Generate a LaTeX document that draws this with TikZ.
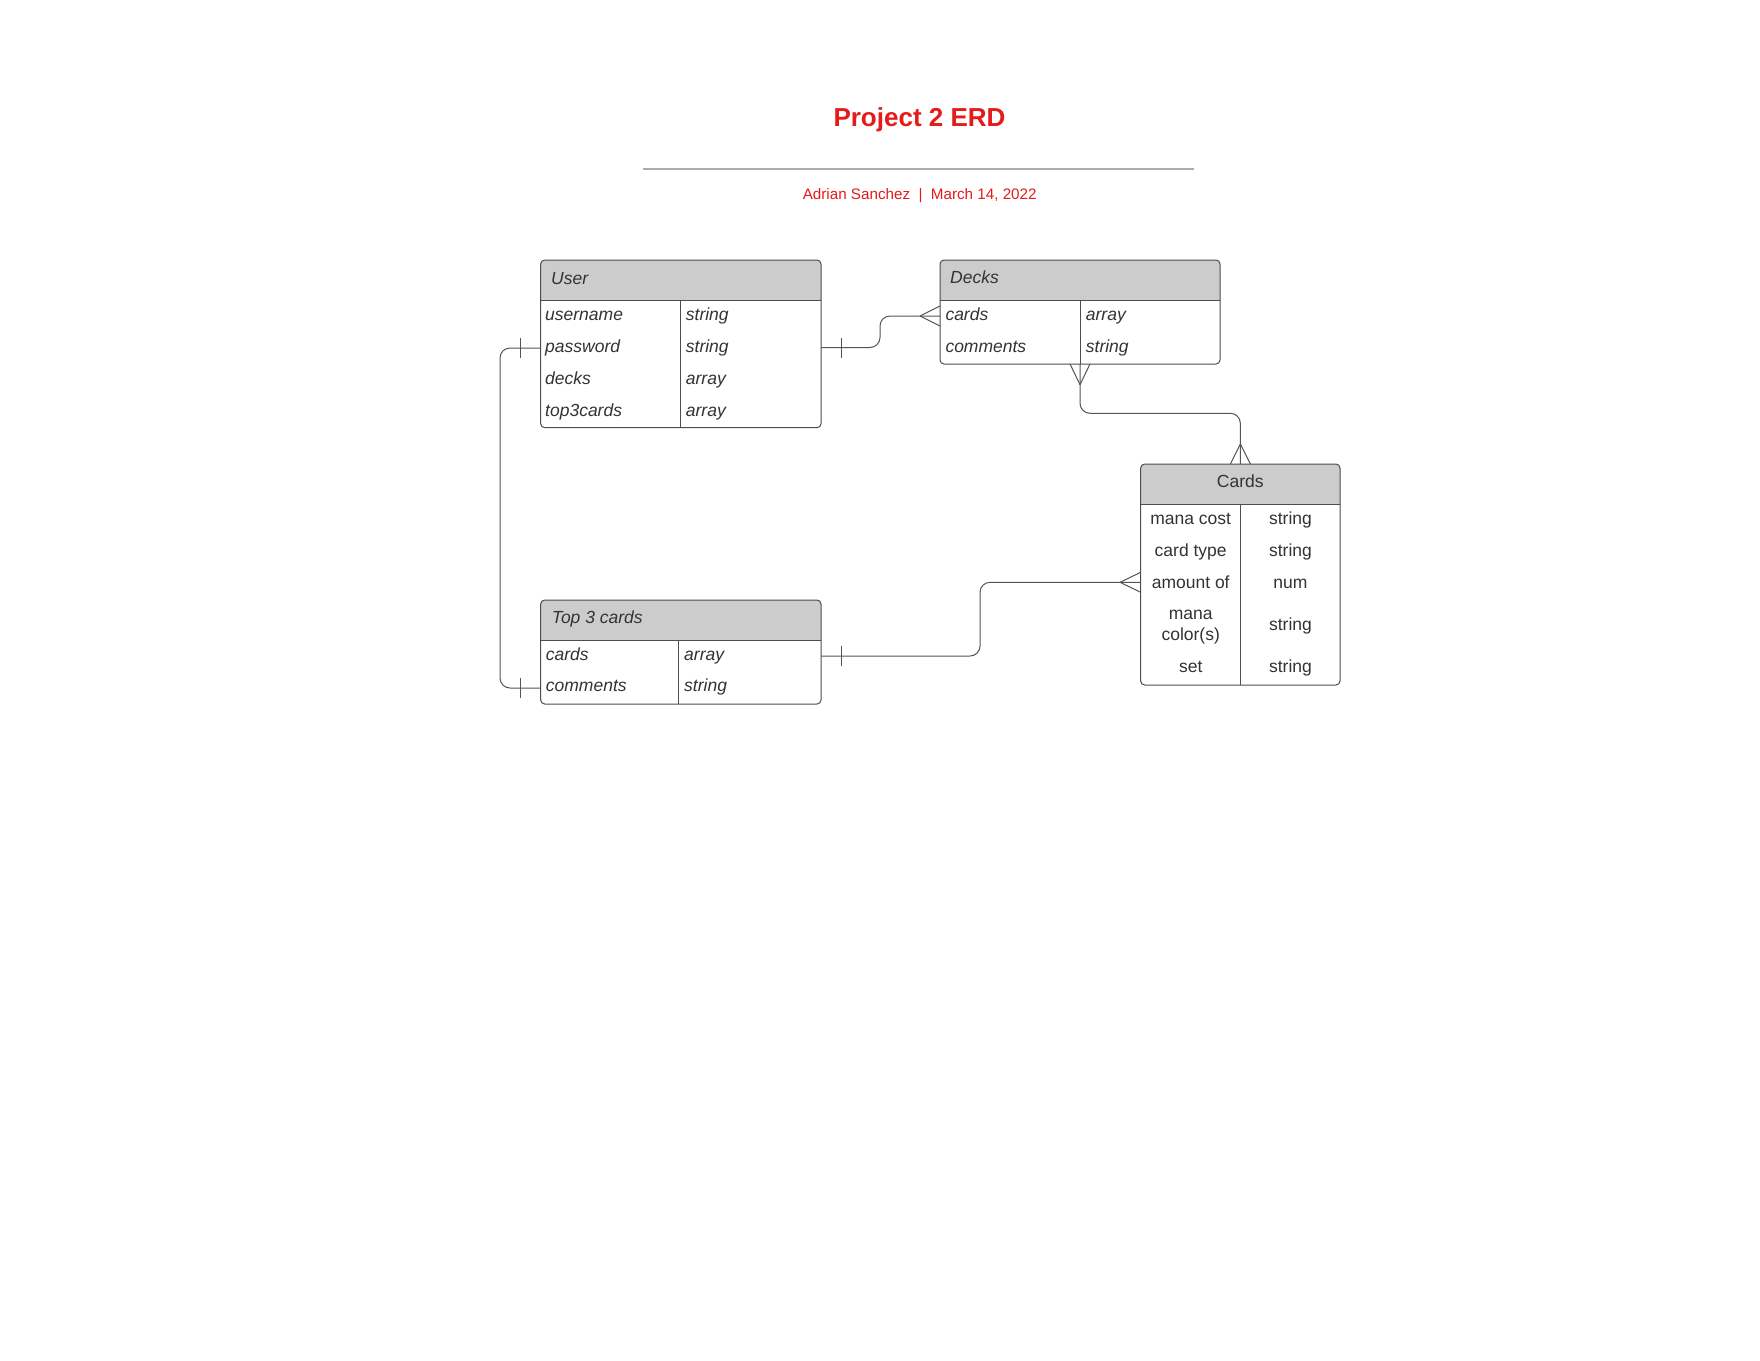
\documentclass[tikz,border=0pt]{standalone}
\usepackage{fontspec}
\setmainfont{Liberation Sans}
\usetikzlibrary{calc}
\definecolor{ttl}{HTML}{E51A1A}
\definecolor{hdr}{HTML}{CCCCCC}
\definecolor{bd}{HTML}{4D4D4D}
\definecolor{cn}{HTML}{555555}
\definecolor{txt}{HTML}{333333}
\definecolor{rulec}{HTML}{A8ACB4}
\begin{document}
\begin{tikzpicture}[x=1pt,y=-1pt,
  tbl/.style={draw=none,rectangle,inner sep=0pt,outer sep=0pt,anchor=north west},
  bdr/.style={draw=bd,line width=1pt},
  conn/.style={draw=cn,line width=1pt},
  fld/.style={font=\fontsize{17.5}{21}\selectfont\itshape,text=txt,inner sep=0pt,anchor=base west},
  cfld/.style={font=\fontsize{17.5}{21}\selectfont,text=txt,inner sep=0pt,anchor=base},
]
\useasboundingbox[fill=white] (0,0) rectangle (1760,1360);

% title
\node[font=\fontsize{26}{30}\selectfont\bfseries,text=ttl,anchor=base,inner sep=0pt] (title) at (919.5,126) {Project 2 ERD};
\coordinate (ruleL) at (643,168.8);
\coordinate (ruleR) at (1193.7,168.8);
\draw[rulec,line width=1.7pt] (ruleL) -- (ruleR);
\node[font=\fontsize{15.2}{18}\selectfont,text=ttl,anchor=base,inner sep=0pt] (sub) at (919.7,199.3) {Adrian Sanchez\ \ |\ \ March 14, 2022};

% ---------- User ----------
\node[tbl,minimum width=280.3pt,minimum height=167.7pt] (user) at (540.7,260) {};
\begin{scope}\clip (540.7,260) rectangle (821,300.7);
\fill[hdr,rounded corners=4pt] (user.north west) rectangle (user.south east);\end{scope}
\draw[bdr,rounded corners=4pt] (user.north west) rectangle (user.south east);
\draw[bdr] (540.7,300.7) -- (821,300.7);
\draw[bdr] (680.3,300.7) -- (680.3,427.7);
\node[fld] (userT) at (551,284) {User};
\node[fld] (u1) at (545,320.5) {username};
\node[fld] (u2) at (545,352.3) {password};
\node[fld] (u3) at (545,384.2) {decks};
\node[fld] (u4) at (545,416) {top3cards};
\node[fld] (u1t) at (685.7,320.5) {string};
\node[fld] (u2t) at (685.7,352.3) {string};
\node[fld] (u3t) at (685.7,384.2) {array};
\node[fld] (u4t) at (685.7,416) {array};

% ---------- Decks ----------
\node[tbl,minimum width=280pt,minimum height=104pt] (decks) at (940,260) {};
\begin{scope}\clip (940,260) rectangle (1220,300.7);
\fill[hdr,rounded corners=4pt] (decks.north west) rectangle (decks.south east);\end{scope}
\draw[bdr,rounded corners=4pt] (decks.north west) rectangle (decks.south east);
\draw[bdr] (940,300.7) -- (1220,300.7);
\draw[bdr] (1080,300.7) -- (1080,364);
\node[fld] (decksT) at (950,283.5) {Decks};
\node[fld] (d1) at (945.3,320.3) {cards};
\node[fld] (d2) at (945.3,352) {comments};
\node[fld] (d1t) at (1085.7,320.3) {array};
\node[fld] (d2t) at (1085.7,352) {string};

% ---------- Cards ----------
\node[tbl,minimum width=199.3pt,minimum height=221pt] (cards) at (1140.7,464) {};
\begin{scope}\clip (1140.7,464) rectangle (1340,504.3);
\fill[hdr,rounded corners=4pt] (cards.north west) rectangle (cards.south east);\end{scope}
\draw[bdr,rounded corners=4pt] (cards.north west) rectangle (cards.south east);
\draw[bdr] (1140.7,504.3) -- (1340,504.3);
\draw[bdr] (1240.7,504.3) -- (1240.7,685);
\node[cfld] (cardsT) at (1240.3,487.7) {Cards};
\node[cfld] (c1) at (1190.7,524) {mana cost};
\node[cfld] (c2) at (1190.7,556) {card type};
\node[cfld] (c3) at (1190.7,588) {amount of};
\node[cfld,anchor=center,align=center] (c4) at (1190.7,627) {mana\\color(s)};
\node[cfld] (c5) at (1190.7,672.3) {set};
\node[cfld] (c1t) at (1290.5,524) {string};
\node[cfld] (c2t) at (1290.5,556) {string};
\node[cfld] (c3t) at (1290.5,588) {num};
\node[cfld] (c4t) at (1290.5,630) {string};
\node[cfld] (c5t) at (1290.5,672.3) {string};

% ---------- Top 3 cards ----------
\node[tbl,minimum width=280.3pt,minimum height=104pt] (top3) at (540.7,600) {};
\begin{scope}\clip (540.7,600) rectangle (821,640.7);
\fill[hdr,rounded corners=4pt] (top3.north west) rectangle (top3.south east);\end{scope}
\draw[bdr,rounded corners=4pt] (top3.north west) rectangle (top3.south east);
\draw[bdr] (540.7,640.7) -- (821,640.7);
\draw[bdr] (678.7,640.7) -- (678.7,704);
\node[fld] (top3T) at (551.7,623.5) {Top 3 cards};
\node[fld] (t1) at (545.7,660) {cards};
\node[fld] (t2) at (545.7,691.7) {comments};
\node[fld] (t1t) at (684,660) {array};
\node[fld] (t2t) at (684,691.7) {string};

% ---------- connection points ----------
\coordinate (uA) at ($(user.north east)+(0,87.5)$);
\coordinate (uB) at ($(user.north west)+(0,88)$);
\coordinate (dA) at ($(decks.north west)+(0,56)$);
\coordinate (tA) at ($(top3.north east)+(0,56)$);
\coordinate (tB) at ($(top3.north west)+(0,88)$);
\coordinate (cA) at ($(cards.north west)+(0,118.3)$);

% User -> Decks (one to many)
\draw[conn,rounded corners=10pt] (uA) -- ++(59,0) |- (dA);
\draw[conn] ($(uA)+(20.7,-10)$) -- ++(0,20);
\draw[conn] ($(dA)+(-20,0)$) -- ($(dA)+(0,-10)$);
\draw[conn] ($(dA)+(-20,0)$) -- ($(dA)+(0,10)$);

% User -> Top 3 cards (one to one)
\draw[conn,rounded corners=10pt] (uB) -- ++(-40.7,0) |- (tB);
\draw[conn] ($(uB)+(-20,-10)$) -- ++(0,20);
\draw[conn] ($(tB)+(-20,-10)$) -- ++(0,20);

% Decks -> Cards (many to many)
\draw[conn,rounded corners=10pt] (decks.south) -- ++(0,49.3) -| (cards.north);
\draw[conn] ($(decks.south)+(0,20.7)$) -- ($(decks.south)+(-10,0)$);
\draw[conn] ($(decks.south)+(0,20.7)$) -- ($(decks.south)+(10,0)$);
\draw[conn] ($(cards.north)+(0,-20)$) -- ($(cards.north)+(-10,0)$);
\draw[conn] ($(cards.north)+(0,-20)$) -- ($(cards.north)+(10,0)$);

% Cards -> Top 3 cards
\draw[conn,rounded corners=10pt] (cA) -- ++(-160.7,0) |- (tA);
\draw[conn] ($(cA)+(-20.7,0)$) -- ($(cA)+(0,-10)$);
\draw[conn] ($(cA)+(-20.7,0)$) -- ($(cA)+(0,10)$);
\draw[conn] ($(tA)+(20.7,-10)$) -- ++(0,20);
\end{tikzpicture}
\end{document}
